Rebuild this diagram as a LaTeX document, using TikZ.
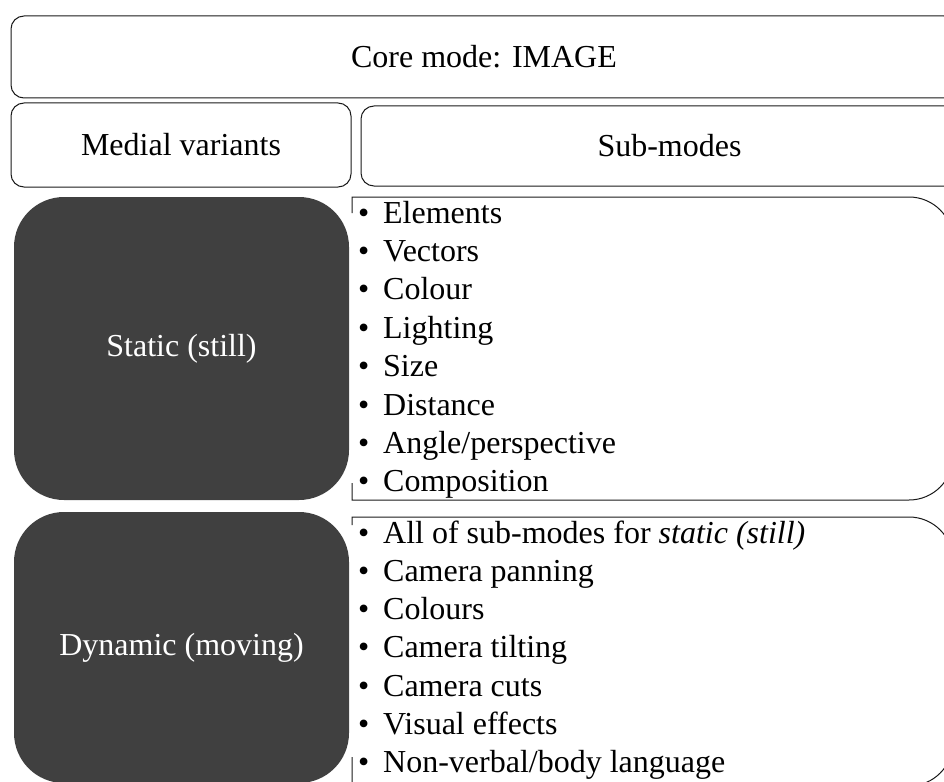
\documentclass[tikz,border=0pt]{standalone}
\usepackage{fontspec}
\setmainfont{Liberation Serif}
\usepackage{xcolor}
\definecolor{darkgrey}{HTML}{404040}
\definecolor{framegrey}{HTML}{1A1A1A}

\tikzset{
  headbox/.style={draw=framegrey,line width=1pt,fill=white,rounded corners=13pt,inner sep=0pt},
  darkbox/.style={fill=darkgrey,text=white,rounded corners=50pt,inner sep=0pt,minimum width=335pt},
  listframe/.style={draw=framegrey,line width=1pt},
  item/.style={anchor=base west,inner sep=0pt}
}

\begin{document}
\begin{tikzpicture}[x=1pt,y=-1pt,font=\fontsize{32}{38.4}\selectfont]
            \useasboundingbox (0,0) rectangle (944,781);
            \clip (0,0) rectangle (944,781);

            % header rows
            \node[headbox,minimum width=946pt,minimum height=82pt] (core) at (484,57) {Core mode: IMAGE};
            \node[headbox,minimum width=340pt,minimum height=84pt] (medial) at (181,145) {Medial variants};
            \node[headbox,minimum width=617pt,minimum height=80pt] (submodes) at (669.5,146) {Sub-modes};

            % medial variants
            \node[darkbox,minimum height=303pt] (static) at (181.5,348.5) {Static (still)};
            \node[darkbox,minimum height=271pt] (dynamic) at (181.5,647.5) {Dynamic (moving)};

            % frames of the sub-mode lists
            \draw[listframe] (352,213) -- (352,197) -- (909,197) arc[start angle=90,end angle=0,radius=44pt]
                -- (953,456) arc[start angle=0,end angle=-90,radius=44pt] -- (352,500) -- (352,483);
            \draw[listframe] (352,525) -- (352,517) -- (909,517) arc[start angle=90,end angle=0,radius=44pt]
                -- (953,742) arc[start angle=0,end angle=-90,radius=44pt] -- (352,786) -- (352,757);

            % sub-modes for static
            \foreach \t [count=\i] in {Elements,Vectors,Colour,Lighting,Size,Distance,Angle/perspective,Composition}
                \node[item] (st\i) at (358,223+38.4*\i-38.4) {\makebox[25pt][l]{\textbullet}\t};

            % sub-modes for dynamic
            \foreach \t [count=\i] in {{All of sub-modes for \textit{static (still)}},Camera panning,Colours,Camera tilting,Camera cuts,Visual effects,Non-verbal/body language}
                \node[item] (dy\i) at (358,543+38.3*\i-38.3) {\makebox[25pt][l]{\textbullet}\t};
        \end{tikzpicture}
\end{document}
